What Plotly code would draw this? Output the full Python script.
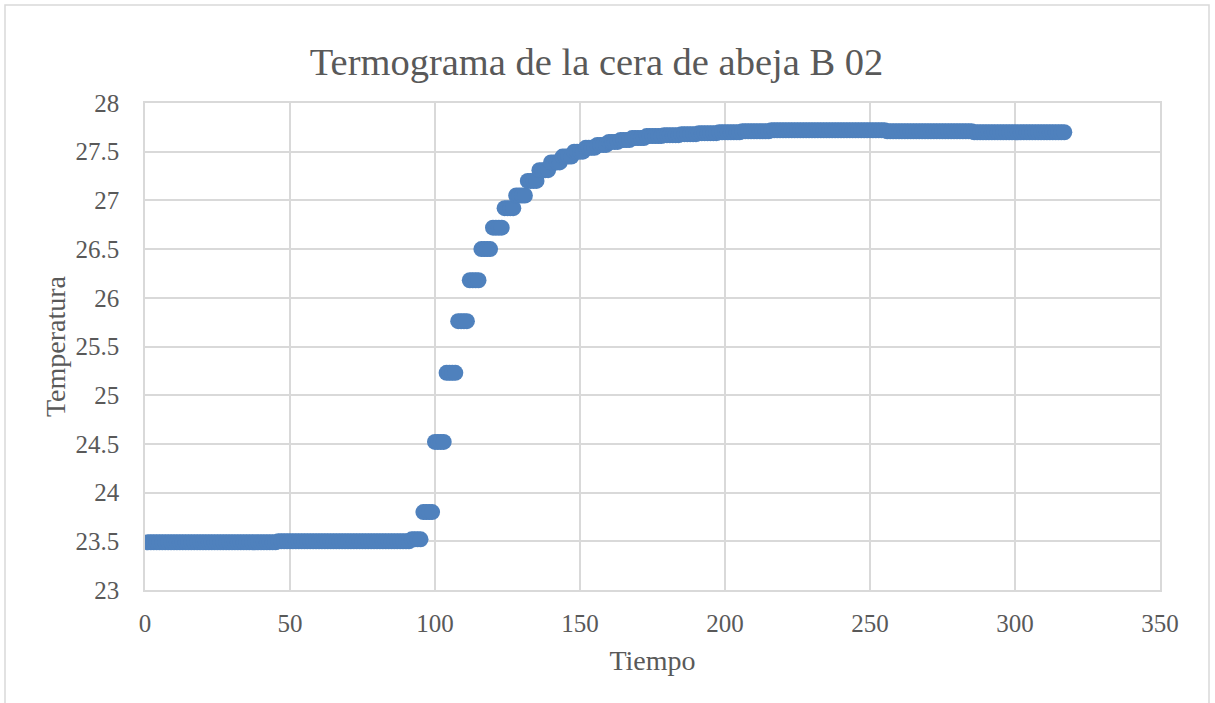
import plotly.graph_objects as go

# Temperature levels (run-length: value, number of consecutive 1-s samples)
temp_levels = [23.49, 23.50, 23.52, 23.80, 24.52, 25.23, 25.76, 26.18, 26.50,
               26.72, 26.92, 27.05, 27.20, 27.31, 27.39, 27.45, 27.50, 27.54,
               27.57, 27.60, 27.62, 27.64, 27.66, 27.67, 27.68, 27.69, 27.70,
               27.71, 27.72, 27.71, 27.70]
run_counts = [45, 46, 4, 4, 4, 4, 4, 4, 4,
              4, 4, 4, 4, 4, 4, 4, 4, 4,
              4, 4, 4, 5, 6, 6, 6, 7, 8,
              10, 40, 30, 32]
start_time = 1

temperatura = []
for v, c in zip(temp_levels, run_counts):
    temperatura.extend([v] * c)
tiempo = list(range(start_time, start_time + len(temperatura)))

x_ticks = [0, 50, 100, 150, 200, 250, 300, 350]
y_ticks = [23, 23.5, 24, 24.5, 25, 25.5, 26, 26.5, 27, 27.5, 28]
y_labels = ["23", "23.5", "24", "24.5", "25", "25.5", "26", "26.5", "27", "27.5", "28"]

FONT = "Liberation Serif"
GRID = "#d9d9d9"
TXT = "#595959"

W, H = 1215, 703
L, R, T, B = 145, 55, 103, 113
PW, PH = W - L - R, H - T - B

fig = go.Figure()
fig.add_trace(go.Scatter(
    x=tiempo, y=temperatura, mode="markers",
    marker=dict(size=16, color="#4F81BD", line=dict(width=0)),
    showlegend=False,
))

fig.update_layout(
    width=W, height=H,
    margin=dict(l=L, r=R, t=T, b=B),
    paper_bgcolor="white", plot_bgcolor="white",
    font=dict(family=FONT, color=TXT, size=25),
    title=dict(text="Termograma de la cera de abeja B 02",
               x=596.5 / W, xanchor="center", y=1 - 62 / H, yanchor="middle",
               font=dict(family=FONT, size=38.5, color=TXT)),
    xaxis=dict(range=[0, 350], tickvals=x_ticks, showgrid=True, gridcolor=GRID,
               gridwidth=1.5, zeroline=False, showline=True, linecolor=GRID,
               linewidth=1.5, mirror=True, ticks="", ticklabelstandoff=10,
               tickfont=dict(size=25, color=TXT),
               title=dict(text="Tiempo", font=dict(size=28, color=TXT), standoff=15)),
    yaxis=dict(range=[23, 28], tickvals=y_ticks, ticktext=y_labels, showgrid=True,
               gridcolor=GRID, gridwidth=1.5, zeroline=False, showline=True,
               linecolor=GRID, linewidth=1.5, mirror=True, ticks="",
               ticklabelstandoff=19, tickfont=dict(size=25, color=TXT),
               title=dict(text="Temperatura", font=dict(size=28, color=TXT), standoff=2)),
    shapes=[dict(type="rect", xref="paper", yref="paper",
                 x0=(5 - L) / PW, x1=(1209 - L) / PW,
                 y0=(H - B - 712) / PH, y1=(H - B - 5) / PH,
                 line=dict(color=GRID, width=1.5), fillcolor="rgba(0,0,0,0)", layer="below")],
)

fig.write_html("out.html", config={"displayModeBar": False},
               post_script="document.body.style.margin='0';document.body.style.overflow='hidden';")
